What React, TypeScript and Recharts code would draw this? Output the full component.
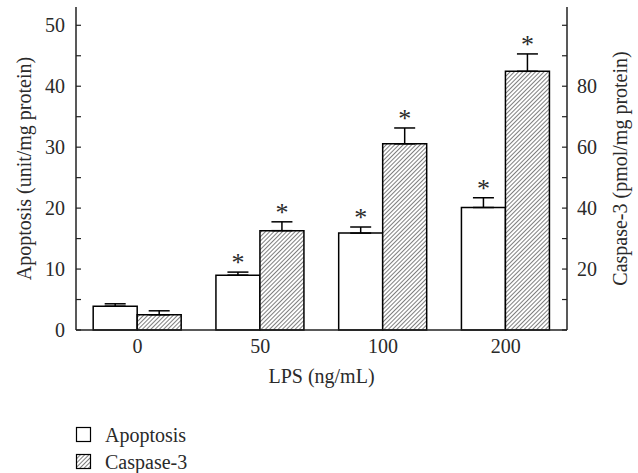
import React from 'react';
import { BarChart, Bar, XAxis, YAxis, ErrorBar, LabelList, Customized } from 'recharts';

const categories = ['0', '50', '100', '200'];
const apoptosis = [3.9, 9.0, 15.9, 20.1];
const apoptosisErr = [0.4, 0.5, 1.0, 1.6];
const caspase = [5.0, 32.6, 61.1, 84.9];
const caspaseErr = [1.3, 2.9, 5.2, 5.7];
const significant = [false, true, true, true];
const seriesNames = ['Apoptosis', 'Caspase-3'];
const leftTicks = [0, 5, 10, 15, 20, 25, 30, 35, 40, 45, 50];
const leftLabeled = [0, 10, 20, 30, 40, 50];
const rightTicks = [0, 10, 20, 30, 40, 50, 60, 70, 80, 90, 100];
const rightLabeled = [20, 40, 60, 80];

const data = categories.map((c, i) => ({
  lps: c,
  apo: apoptosis[i],
  apoErr: [0, apoptosisErr[i]],
  cas: caspase[i],
  casErr: [0, caspaseErr[i]],
  sig: significant[i],
}));

const FONT = 'Liberation Serif, DejaVu Serif, serif';
const TXT = '#2a2a2a';
const AX = '#222';

const makeStar = (errs: number[]) => (props: any) => {
  const { x, y, width, height, value, index } = props;
  if (!significant[index] || !value) return null;
  const pxPerUnit = height / value;
  const errTop = y - errs[index] * pxPerUnit;
  return (
    <text x={x + width / 2} y={errTop - 1} textAnchor="middle" style={{ fontFamily: FONT }} fontSize={26} fill={TXT}>
      *
    </text>
  );
};

const LegendBlock = () => (
  <g style={{ fontFamily: FONT }} fontSize={20} fill={TXT}>
    <rect x={76.5} y={427.5} width={14} height={14} fill="#fff" stroke="#000" strokeWidth={1.2} />
    <text x={105} y={442}>{seriesNames[0]}</text>
    <rect x={76.5} y={454.5} width={14} height={14} fill="url(#hatch)" stroke="#000" strokeWidth={1.2} />
    <text x={105} y={468.5}>{seriesNames[1]}</text>
  </g>
);

const tickStyle = { fontFamily: FONT, fontSize: 20, fill: TXT };
const labelStyle = { fontFamily: FONT, fontSize: 20, fill: TXT };

export default function App() {
  return (
    <div style={{ position: 'absolute', left: 0, top: 0, width: 638, height: 473, background: '#fff', fontFamily: FONT }}>
      <svg width={0} height={0} style={{ position: 'absolute' }}>
        <defs>
          <pattern id="hatch" patternUnits="userSpaceOnUse" width={3} height={3} patternTransform="rotate(45)">
            <rect x={0} y={0} width={3} height={3} fill="#fff" />
            <line x1={0} y1={0} x2={0} y2={3} stroke="#000" strokeWidth={1} />
          </pattern>
        </defs>
      </svg>
      <BarChart
        width={638}
        height={473}
        data={data}
        margin={{ top: 7, right: 0, bottom: 83, left: 0 }}
        barCategoryGap="14%"
        barGap={0}
        style={{ fontFamily: FONT }}
      >
        <XAxis
          dataKey="lps"
          xAxisId="bottom"
          height={60}
          tickLine={false}
          tickSize={0}
          tickMargin={9}
          axisLine={{ stroke: AX, strokeWidth: 1.5 }}
          tick={tickStyle}
          label={{ value: 'LPS (ng/mL)', position: 'insideBottom', offset: 7, style: labelStyle }}
        />
        <XAxis
          dataKey="lps"
          xAxisId="top"
          orientation="top"
          height={0}
          tick={false}
          tickLine={false}
          axisLine={{ stroke: AX, strokeWidth: 1.5 }}
        />
        <YAxis
          yAxisId="left"
          width={76}
          domain={[0, 53]}
          ticks={leftTicks}
          interval={0}
          tickSize={-5}
          tickMargin={16}
          tickFormatter={(v: number) => (leftLabeled.includes(v) ? String(v) : '')}
          axisLine={{ stroke: AX, strokeWidth: 1.5 }}
          tickLine={{ stroke: AX, strokeWidth: 1.2 }}
          tick={tickStyle}
          label={{ value: 'Apoptosis (unit/mg protein)', angle: -90, position: 'insideLeft', offset: 24, style: { ...labelStyle, textAnchor: 'middle' } }}
        />
        <YAxis
          yAxisId="right"
          orientation="right"
          width={71}
          domain={[0, 106]}
          ticks={rightTicks}
          interval={0}
          tickSize={-5}
          tickMargin={15}
          tickFormatter={(v: number) => (rightLabeled.includes(v) ? String(v) : '')}
          axisLine={{ stroke: AX, strokeWidth: 1.5 }}
          tickLine={{ stroke: AX, strokeWidth: 1.2 }}
          tick={tickStyle}
          label={{ value: 'Caspase-3 (pmol/mg protein)', angle: -90, position: 'insideRight', offset: 18, style: { ...labelStyle, textAnchor: 'middle' } }}
        />
        <Bar dataKey="apo" name={seriesNames[0]} xAxisId="bottom" yAxisId="left" fill="#fff" stroke="#000" strokeWidth={1.5} isAnimationActive={false}>
          <ErrorBar dataKey="apoErr" direction="y" width={10.5} stroke="#000" strokeWidth={1.5} />
          <LabelList dataKey="apo" content={makeStar(apoptosisErr)} />
        </Bar>
        <Bar dataKey="cas" name={seriesNames[1]} xAxisId="bottom" yAxisId="right" fill="url(#hatch)" stroke="#000" strokeWidth={1.5} isAnimationActive={false}>
          <ErrorBar dataKey="casErr" direction="y" width={10.5} stroke="#000" strokeWidth={1.5} />
          <LabelList dataKey="cas" content={makeStar(caspaseErr)} />
        </Bar>
        <Customized component={LegendBlock} />
      </BarChart>
    </div>
  );
}
